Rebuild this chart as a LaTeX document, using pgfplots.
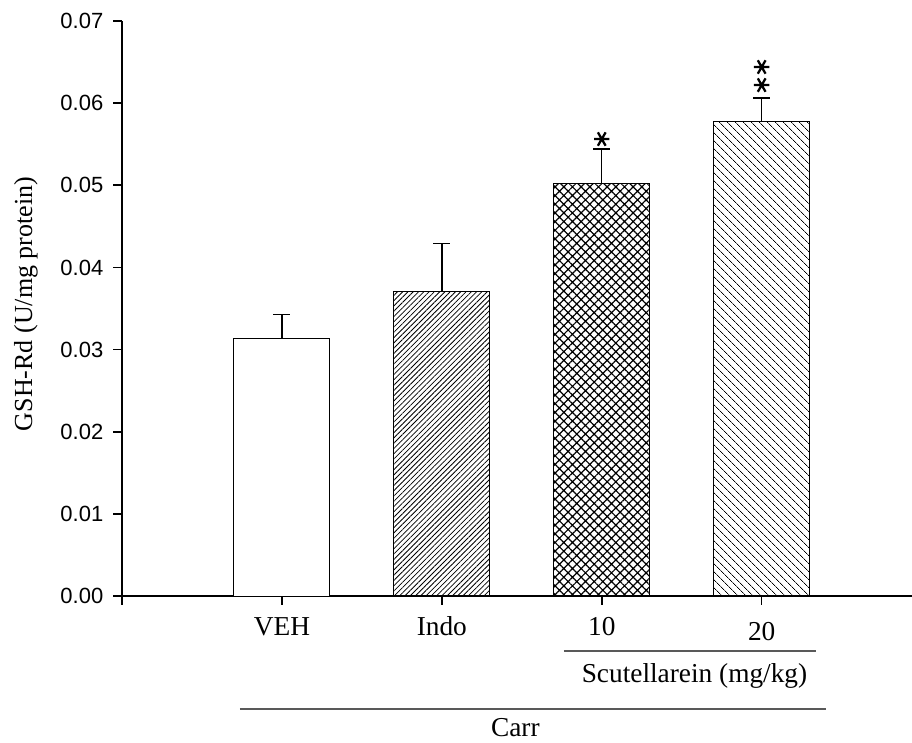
\documentclass[border=0pt]{standalone}
\usepackage{fontspec}
\setmainfont{Liberation Serif}
\newfontfamily\arial{Liberation Sans}
\usepackage{pgfplots}
\pgfplotsset{compat=1.18}
\usetikzlibrary{patterns.meta}
\begin{document}
\begin{tikzpicture}
\path[use as bounding box] (-91.5pt,-109.5pt) rectangle (592.5pt,447pt);
\begin{axis}[
  scale only axis, width=592.5pt, height=431.25pt,
  xmin=0, xmax=4.94, ymin=0, ymax=0.07,
  clip=false,
  axis x line*=bottom, axis y line*=left,
  axis line style={-, line width=1.4pt},
  tick align=outside, major tick length=6.5pt,
  tick style={black, line width=1.2pt},
  xtick={0,1,2,3,4},
  xticklabels={,VEH,Indo,10,\raisebox{-3.75pt}{20}},
  ytick={0,0.01,0.02,0.03,0.04,0.05,0.06,0.07},
  scaled y ticks=false,
  /pgf/number format/assume math mode=true,
  yticklabel style={/pgf/number format/.cd, fixed, fixed zerofill, precision=2, /tikz/.cd, font=\arial\fontsize{16.5}{19}\selectfont, xshift=-4pt},
  xticklabel style={font=\fontsize{20.5}{24}\selectfont, anchor=base, yshift=-23.25pt},
  ylabel={GSH-Rd (U/mg protein)},
  every axis y label/.style={at={(axis description cs:-0.1215,0.508)}, rotate=90, anchor=center, font=\fontsize{19.5}{23}\selectfont},
]
\addplot[ybar, bar width=0.6, bar shift=0pt, draw=black, line width=0.75pt, fill=white,
  error bars/.cd, y dir=plus, y explicit, error bar style={line width=1.1pt},
  error mark options={rotate=90, mark size=6.4pt, line width=1.1pt}]
  coordinates {(1,0.0314) +- (0,0.0029)};
\addplot[ybar, bar width=0.6, bar shift=0pt, draw=black, line width=0.75pt,
  pattern={Lines[angle=45,distance=2.8pt,line width=0.6pt]},
  error bars/.cd, y dir=plus, y explicit, error bar style={line width=1.1pt},
  error mark options={rotate=90, mark size=6.4pt, line width=1.1pt}]
  coordinates {(2,0.0371) +- (0,0.0058)};
\addplot[ybar, bar width=0.6, bar shift=0pt, draw=black, line width=0.75pt,
  pattern={Hatch[angle=45,distance=4.6pt,line width=0.9pt]},
  error bars/.cd, y dir=plus, y explicit, error bar style={line width=1.1pt},
  error mark options={rotate=90, mark size=6.4pt, line width=1.1pt}]
  coordinates {(3,0.0502) +- (0,0.0042)};
\addplot[ybar, bar width=0.6, bar shift=0pt, draw=black, line width=0.75pt,
  pattern={Lines[angle=-45,distance=4pt,line width=0.6pt]},
  error bars/.cd, y dir=plus, y explicit, error bar style={line width=1.1pt},
  error mark options={rotate=90, mark size=6.4pt, line width=1.1pt}]
  coordinates {(4,0.0578) +- (0,0.0028)};
\addplot[only marks, mark=asterisk, mark size=5.8pt, mark options={rotate=90, line width=1.7pt, black}]
  coordinates {(3,0.05563) (4,0.0622) (4,0.0644)};
\draw[line width=1pt, black!65] ([yshift=-41.25pt]axis cs:2.7625,0) -- ([yshift=-41.25pt]axis cs:4.3375,0);
\node[anchor=base, font=\fontsize{20.5}{24}\selectfont] at ([yshift=-64.5pt]axis cs:3.58,0) {Scutellarein (mg/kg)};
\draw[line width=1pt, black!65] ([yshift=-84.75pt]axis cs:0.7375,0) -- ([yshift=-84.75pt]axis cs:4.4,0);
\node[anchor=base, font=\fontsize{20.5}{24}\selectfont] at ([yshift=-105pt]axis cs:2.46,0) {Carr};
\end{axis}
\end{tikzpicture}
\end{document}
